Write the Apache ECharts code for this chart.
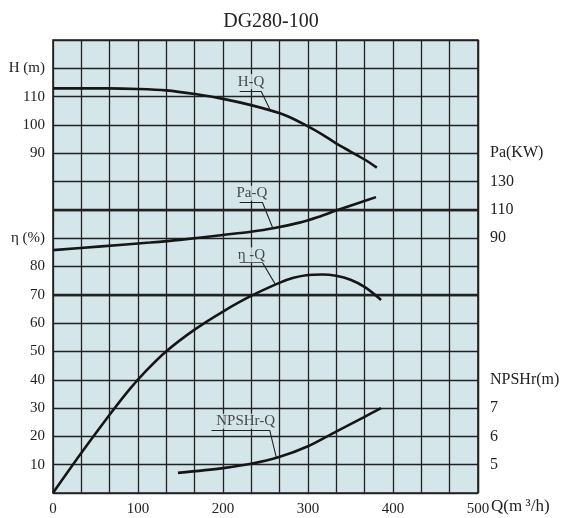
<!DOCTYPE html>
<html><head><meta charset="utf-8">
<script src="https://cdn.jsdelivr.net/npm/echarts@6/dist/echarts.min.js"></script>
<style>html,body{margin:0;padding:0;background:#fff}#c{width:566px;height:518px}</style>
</head><body><div id="c"></div>
<script>
// ---- data ----
const chartTitle = 'DG280-100';
const xTickLabels = [0, 100, 200, 300, 400, 500];
const etaTickLabels = [10, 20, 30, 40, 50, 60, 70, 80];
const headTickLabels = [90, 100, 110];
const powerTickLabels = [90, 110, 130];
const npshTickLabels = [5, 6, 7];

const hqQ = [0, 65, 100, 133, 167, 200, 233, 267, 283, 300, 317, 333, 350, 367, 381];
const hqH = [112.9, 112.9, 112.7, 112.2, 110.9, 109.2, 107.0, 104.1, 102.1, 99.5, 96.6, 93.5, 90.6, 87.7, 84.9];

const paQ = [0, 57, 114, 149, 200, 233, 259, 290, 312, 333, 356, 380];
const paP = [81.6, 84.2, 86.9, 88.8, 92.3, 94.6, 97.0, 101.0, 105.0, 109.5, 114.2, 119.0];

const etaQ = [0, 33, 67, 90, 110, 133, 167, 200, 233, 267, 283, 300, 317, 333, 350, 367, 386];
const etaE = [0, 14, 27.8, 36.6, 43.3, 50.0, 57.8, 64.1, 69.6, 74.3, 76.0, 77.0, 77.2, 76.7, 75.3, 72.7, 68.2];

const npQ = [147, 200, 233, 266, 300, 333, 366, 386];
const npN = [4.71, 4.88, 5.03, 5.27, 5.65, 6.17, 6.68, 7.0];

// annotation labels: [text, textQ, textV, underlineQ1, underlineQ2, underlineV, leaderQ, leaderV, axis]
const annHQ  = ['H-Q',     233,   115.3, 219.6, 245,   111.8, 255.8, 105.1, 1];
const annPaQ = ['Pa-Q',    234,   121.8, 219.6, 246.4, 115.2, 258.8, 96.9, 2];
const annEtaQ= ['η -Q',    233.5, 84.1,  219.6, 246.4, 81.4,  261.8, 73.6, 0];
const annNpQ = ['NPSHr-Q', 226.7, 6.53,  186.4, 255,   6.21,  262.8, 5.25, 3];

// ---- styling ----
const FONT = 'Liberation Serif';
const INK = '#222';
const CELL = '#d5e6ea';

function zip(a, b) { return a.map((v, i) => [v, b[i]]); }
function near(v, list) { return list.some(t => Math.abs(v - t) < 1e-6); }

const curveStyle = { color: '#161616', width: 2.6 };
function curve(name, xs, ys, yIdx, extra) {
  return Object.assign({
    name, type: 'line', yAxisIndex: yIdx, data: zip(xs, ys), smooth: 0.3,
    showSymbol: false, symbol: 'none', lineStyle: curveStyle, silent: true, z: 4
  }, extra || {});
}
function annotation(a) {
  const [txt, tq, tv, u1, u2, uv, lq, lv, yIdx] = a;
  return [
    { type: 'line', yAxisIndex: yIdx, data: [[u1, uv], [u2, uv], [lq, lv]], symbol: 'none',
      showSymbol: false, lineStyle: { color: INK, width: 1.1 }, silent: true, z: 5 },
    { type: 'scatter', yAxisIndex: yIdx, data: [[tq, tv]], symbolSize: 1,
      itemStyle: { color: 'rgba(0,0,0,0)' }, silent: true, z: 6,
      label: { show: true, position: 'inside', formatter: txt, fontFamily: FONT, fontSize: 15,
        color: INK, backgroundColor: CELL, padding: [0, 1] } }
  ];
}

const leftLabel = { fontFamily: FONT, fontSize: 15, color: INK, margin: 8 };
const rightLabel = { fontFamily: FONT, fontSize: 16, color: INK, margin: 12 };

const chart = echarts.init(document.getElementById('c'), null, { renderer: 'canvas' });
chart.setOption({
  animation: false,
  backgroundColor: '#fff',
  title: { text: chartTitle, left: 266, top: 7, textAlign: 'center',
    textStyle: { fontFamily: FONT, fontSize: 20, fontWeight: 'normal', color: INK } },
  grid: { left: 53, top: 40, width: 425, height: 453, show: true, backgroundColor: CELL,
    borderColor: INK, borderWidth: 1.6 },
  xAxis: {
    type: 'value', min: 0, max: 500, interval: 500 / 15,
    axisLine: { show: false }, axisTick: { show: false },
    splitLine: { show: true, lineStyle: { color: INK, width: 1.3 } },
    axisLabel: { fontFamily: FONT, fontSize: 15, color: INK, margin: 9, showMinLabel: true, showMaxLabel: true,
      formatter: v => { const r = Math.round(v); return (Math.abs(v - r) < 0.01 && near(r, xTickLabels)) ? String(r) : ''; } }
  },
  yAxis: [
    { type: 'value', position: 'left', min: 0, max: 160, interval: 10,
      axisLine: { show: false }, axisTick: { show: false },
      splitLine: { show: true, lineStyle: { color: INK, width: 1.3 } },
      axisLabel: Object.assign({}, leftLabel, { formatter: v => near(v, etaTickLabels) ? String(v) : (v === 90 ? 'η (%)' : '') }) },
    { type: 'value', position: 'left', min: -30, max: 130, interval: 10,
      axisLine: { show: false }, axisTick: { show: false }, splitLine: { show: false },
      axisLabel: Object.assign({}, leftLabel, { formatter: v => near(v, headTickLabels) ? String(v) : (v === 120 ? 'H (m)' : '') }) },
    { type: 'value', position: 'right', min: -90, max: 230, interval: 10,
      axisLine: { show: false }, axisTick: { show: false }, splitLine: { show: false },
      axisLabel: Object.assign({}, rightLabel, { formatter: v => near(v, powerTickLabels) ? String(v) : (v === 150 ? 'Pa(KW)' : '') }) },
    { type: 'value', position: 'right', min: 4, max: 20, interval: 1,
      axisLine: { show: false }, axisTick: { show: false }, splitLine: { show: false },
      axisLabel: Object.assign({}, rightLabel, { padding: [0, 0, 5, 0], formatter: v => near(v, npshTickLabels) ? String(v) : (v === 8 ? 'NPSHr(m)' : '') }) }
  ],
  graphic: [
    { type: 'text', left: 491, top: 498, style: { text: 'Q(m\u2009³/h)', fontFamily: FONT, fontSize: 17, fill: INK } }
  ],
  series: [
    curve('η-Q', etaQ, etaE, 0, {
      markLine: { silent: true, symbol: 'none', label: { show: false },
        lineStyle: { color: INK, width: 2.4, type: 'solid' }, data: [{ yAxis: 70 }, { yAxis: 100 }], z: 2 } }),
    curve('H-Q', hqQ, hqH, 1),
    curve('Pa-Q', paQ, paP, 2),
    curve('NPSHr-Q', npQ, npN, 3),
    ...annotation(annHQ), ...annotation(annPaQ), ...annotation(annEtaQ), ...annotation(annNpQ)
  ]
});
</script>
</body></html>
